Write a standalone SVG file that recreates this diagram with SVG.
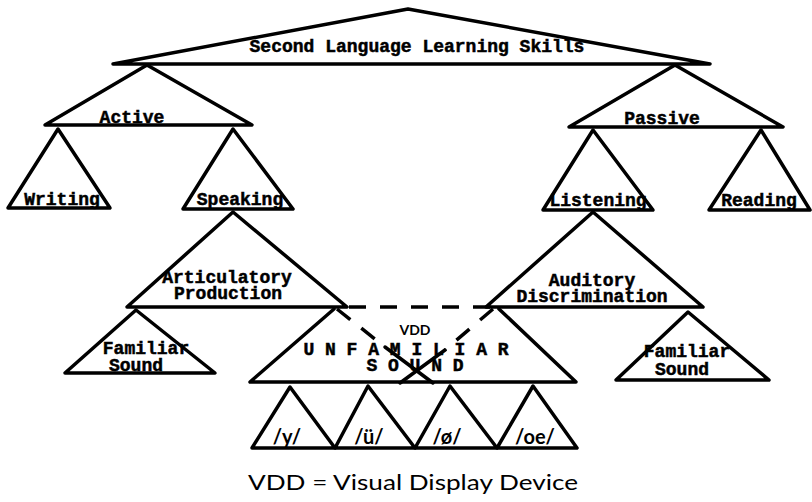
<svg xmlns="http://www.w3.org/2000/svg" width="812" height="502" viewBox="0 0 812 502">
<style>
.tri{fill:none;stroke:#000;stroke-width:3.5;stroke-linejoin:round;stroke-linecap:round}
.ln{fill:none;stroke:#000;stroke-width:3.5;stroke-linecap:round}
.dash{fill:none;stroke:#000;stroke-width:3.5;stroke-dasharray:17 14;stroke-linecap:butt}
.t{font-family:"Liberation Mono","DejaVu Sans Mono",monospace;font-weight:bold;font-size:18px;fill:#000;stroke:#000;stroke-width:0.5;text-anchor:middle}
.s{font-family:Lato,"Open Sans","Liberation Sans",sans-serif;fill:#000;text-anchor:middle}
</style>
<rect width="812" height="502" fill="#fff"/>
<g id="skills">
<polygon class="tri" points="113,64 408,9 710,64"/>
<text class="t" x="417" y="52">Second Language Learning Skills</text>
</g>
<g id="active">
<polygon class="tri" points="45,125 147,65 252,125"/>
<text class="t" x="132" y="123">Active</text>
</g>
<g id="passive">
<polygon class="tri" points="569,127 675,65 783,127"/>
<text class="t" x="662" y="124">Passive</text>
</g>
<g id="writing">
<polygon class="tri" points="8,208 58,129 110,208"/>
<text class="t" x="62" y="205">Writing</text>
</g>
<g id="speaking">
<polygon class="tri" points="183,209 233,129 293,209"/>
<text class="t" x="240" y="205">Speaking</text>
</g>
<g id="listening">
<polygon class="tri" points="543,210 593,130 653,210"/>
<text class="t" x="598" y="206">Listening</text>
</g>
<g id="reading">
<polygon class="tri" points="709,210 761,130 810,210"/>
<text class="t" x="759" y="206">Reading</text>
</g>
<g id="articulatory">
<polygon class="tri" points="127,307 233,212 347,307"/>
<text class="t" x="227" y="283">Articulatory</text>
<text class="t" x="228" y="299">Production</text>
</g>
<g id="auditory">
<polygon class="tri" points="486,307 593,212 703,307"/>
<text class="t" x="592" y="286">Auditory</text>
<text class="t" x="592" y="302">Discrimination</text>
</g>
<g id="familiar-left">
<polygon class="tri" points="65,373 136,310 215,373"/>
<text class="t" x="146" y="354">Familiar</text>
<text class="t" x="136" y="371">Sound</text>
</g>
<g id="familiar-right">
<polygon class="tri" points="616,380 688,312 769,380"/>
<text class="t" x="687" y="357">Familiar</text>
<text class="t" x="682" y="375">Sound</text>
</g>
<g id="unfamiliar">
<polyline class="tri" points="334,309 250,382 576,382 499,309"/>
<text class="s" x="415" y="335" font-size="14" font-weight="bold">VDD</text>
<text class="t" x="406" y="355">U N F A M I L I A R</text>
<text class="t" x="415" y="371">S O U N D</text>
</g>
<g id="sound-y">
<polygon class="tri" points="252,448 290,387 335,448"/>
<text class="s" x="287" y="444" font-size="20" font-weight="bold">/y/</text>
</g>
<g id="sound-u">
<polygon class="tri" points="335,448 368,386 415,448"/>
<text class="s" x="369" y="444" font-size="20" font-weight="bold">/ü/</text>
</g>
<g id="sound-o">
<polygon class="tri" points="415,448 450,386 497,448"/>
<text class="s" x="447" y="444" font-size="20" font-weight="bold">/ø/</text>
</g>
<g id="sound-oe">
<polygon class="tri" points="497,448 533,386 577,448"/>
<text class="s" x="535" y="444" font-size="20" font-weight="bold">/oe/</text>
</g>
<g id="connectors">
<line class="dash" x1="349" y1="307" x2="490" y2="307"/>
<line class="dash" x1="337" y1="309" x2="385" y2="347"/>
<line class="ln" x1="385" y1="347" x2="433" y2="383"/>
<line class="dash" x1="493" y1="309" x2="445" y2="350"/>
<line class="ln" x1="445" y1="350" x2="400" y2="383"/>
</g>
<g id="caption">
<text class="s" x="413" y="490" font-size="22" textLength="330" lengthAdjust="spacingAndGlyphs">VDD = Visual Display Device</text>
</g>
</svg>
